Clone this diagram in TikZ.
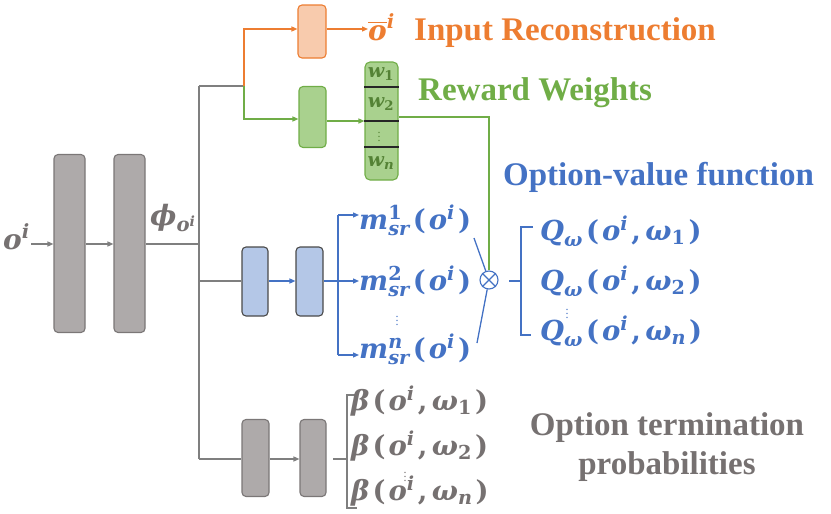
\RequirePackage{fix-cm}
\documentclass[tikz,border=0pt]{standalone}
\usepackage{amsmath}
\usepackage{fontspec}
\setmainfont{Liberation Serif}
\newfontfamily\mserif{DejaVu Serif}
\newcommand\bi[1]{\text{\mserif\bfseries\itshape #1}}
\newcommand\bu[1]{\text{\mserif\bfseries #1}}
\newcommand\gp{\mkern2mu}
\usetikzlibrary{arrows.meta}
\definecolor{cgray}{HTML}{7F7F7F}
\definecolor{cgtext}{HTML}{767171}
\definecolor{cgfill}{HTML}{AEAAAA}
\definecolor{cgdraw}{HTML}{7B7777}
\definecolor{corange}{HTML}{ED7D31}
\definecolor{cofill}{HTML}{F8CBAD}
\definecolor{cgreen}{HTML}{70AD47}
\definecolor{cgrfill}{HTML}{A9D18E}
\definecolor{cgrdark}{HTML}{548235}
\definecolor{cblue}{HTML}{4472C4}
\definecolor{cbfill}{HTML}{B4C7E7}
\definecolor{cbdark}{HTML}{4A4A4A}
\tikzset{
  layer/.style={draw, rounded corners=4pt, line width=1.1pt, inner sep=0pt},
  graybox/.style={layer, draw=cgdraw, fill=cgfill},
  orbox/.style={layer, draw=corange, fill=cofill},
  grbox/.style={layer, draw=cgreen, fill=cgrfill},
  blbox/.style={layer, draw=cbdark, fill=cbfill},
  conn/.style={line width=1.3pt},
  arr/.style={conn, -{Triangle[length=6pt,width=5pt]}},
  title/.style={font=\fontsize{33}{36}\selectfont\bfseries, inner sep=0pt, anchor=base west},
  mtext/.style={font=\fontsize{27.5}{30}\selectfont, inner sep=0pt, anchor=base west},
  dots/.style={inner sep=0pt, font=\fontsize{12}{14}\selectfont},
}
\begin{document}
\begin{tikzpicture}[x=1pt,y=-1pt]
\useasboundingbox (0,0) rectangle (831,514);
% encoder
\node[graybox, minimum width=31pt, minimum height=178pt] (e1) at (69.5,243.5) {};
\node[graybox, minimum width=31pt, minimum height=178pt] (e2) at (129.5,243.5) {};
\node[mtext, text=cgtext, font=\fontsize{28}{30}\selectfont] (oin) at (3,249) {$\bi{o}^{\bi{i}}$};
\coordinate (oinend) at (31,244);
\draw[arr, cgray] (oinend) -- (oinend -| e1.west);
\draw[arr, cgray] (e1.east |- 0,244) -- (e2.west |- 0,244);
\coordinate (j) at (199,244);
\coordinate (jtop) at (199,86);
\coordinate (jblue) at (199,281);
\coordinate (jbot) at (199,459);
\draw[conn, cgray] (e2.east |- j) -- (j);
\draw[conn, cgray] (jtop) -- (jbot);
\node[mtext, text=cgtext, font=\fontsize{28}{30}\selectfont] (phi) at (150,225) {$\bi{ϕ}_{\bi{o}^{\bi{i}}}$};
% top branch
\coordinate (split) at (244,86);
\draw[conn, cgray] (jtop) -- (split);
\node[orbox, minimum width=28pt, minimum height=53pt] (ob) at (312,31.5) {};
\draw[arr, corange] (split) |- (ob.west |- 0,29);
\node[mtext, text=corange, font=\fontsize{28}{30}\selectfont] (obar) at (368,41) {$\overline{\bi{o}}^{\bi{i}}$};
\draw[arr, corange] (ob.east |- 0,29) -- (obar.west |- 0,29);
\node[title, text=corange] (t1) at (414,41) {Input Reconstruction};
% green branch
\node[grbox, minimum width=27pt, minimum height=61pt] (gb) at (312.5,117) {};
\draw[arr, cgreen] (split) |- (gb.west |- 0,119);
\node[grbox, rounded corners=5pt, minimum width=33pt, minimum height=118pt] (vec) at (381.5,121) {};
\draw[line width=1.1pt, black!85] (vec.west |- 0,87) -- (vec.east |- 0,87);
\draw[line width=1.1pt, black!85] (vec.west |- 0,121) -- (vec.east |- 0,121);
\draw[line width=1.1pt, black!85] (vec.west |- 0,147) -- (vec.east |- 0,147);
\node[text=cgrdark, inner sep=0pt, font=\fontsize{19}{21}\selectfont] (w1) at (381,74) {$\bi{w}_{\bu{1}}$};
\node[text=cgrdark, inner sep=0pt, font=\fontsize{19}{21}\selectfont] (w2) at (381,104) {$\bi{w}_{\bu{2}}$};
\node[dots, text=cgrdark] (wd) at (379,134) {$\vdots$};
\node[text=cgrdark, inner sep=0pt, font=\fontsize{19}{21}\selectfont] (wn) at (381,163) {$\bi{w}_{\bi{n}}$};
\draw[arr, cgreen] (gb.east |- vec.west) -- (vec.west);
\node[title, text=cgreen] (t2) at (418,100) {Reward Weights};
% blue branch
\node[blbox, minimum width=26pt, minimum height=69pt] (b1) at (255,281.5) {};
\node[blbox, minimum width=27pt, minimum height=69pt] (b2) at (309.5,281.5) {};
\draw[conn, cgray] (jblue) -- (b1.west |- jblue);
\draw[arr, cblue] (b1.east |- jblue) -- (b2.west |- jblue);
\coordinate (bs) at (338,281);
\coordinate (bstop) at (338,215);
\coordinate (bsbot) at (338,355);
\draw[conn, cblue] (b2.east |- bs) -- (bs);
\draw[conn, cblue] (bstop) -- (bsbot);
\node[mtext, text=cblue] (m1) at (359,229) {$\bi{m}^{\bu{1}}_{\bi{sr}}\gp\bu{(}\gp\bi{o}^{\bi{i}}\gp\bu{)}$};
\node[mtext, text=cblue] (m2) at (359,290) {$\bi{m}^{\bu{2}}_{\bi{sr}}\gp\bu{(}\gp\bi{o}^{\bi{i}}\gp\bu{)}$};
\node[dots, text=cblue] (md) at (397,318) {$\vdots$};
\node[mtext, text=cblue] (mn) at (359,358) {$\bi{m}^{\bi{n}}_{\bi{sr}}\gp\bu{(}\gp\bi{o}^{\bi{i}}\gp\bu{)}$};
\draw[arr, cblue] (bstop) -- (bstop -| m1.west);
\draw[arr, cblue] (bs) -- (bs -| m2.west);
\draw[arr, cblue] (bsbot) -- (bsbot -| mn.west);
\node[circle, draw=cblue, line width=1.1pt, fill=white, minimum size=18pt, inner sep=0pt] (ot) at (489,280) {};
\draw[line width=1.1pt, cblue] (ot.north east) -- (ot.south west) (ot.north west) -- (ot.south east);
\coordinate (m1e) at (474,238);
\coordinate (mne) at (477,343);
\draw[conn, cblue] (m1e) -- (ot);
\draw[conn, cblue] (mne) -- (ot);
\draw[conn, cgreen] (vec.east |- 0,117) -| (ot.north);
\coordinate (qb) at (521,281);
\draw[conn, cblue] (509,281) -- (qb);
\draw[conn, cblue] (533,227) -- (521,227) -- (521,335) -- (531,335);
\node[title, text=cblue] (t3) at (503,185) {Option-value function};
\node[mtext, text=cblue] (q1) at (540,240) {$\bi{Q}_{\bi{ω}}\gp\bu{(}\gp\bi{o}^{\bi{i}}\gp\bu{,}\,\bi{ω}_{\bu{1}}\gp\bu{)}$};
\node[mtext, text=cblue] (q2) at (540,290) {$\bi{Q}_{\bi{ω}}\gp\bu{(}\gp\bi{o}^{\bi{i}}\gp\bu{,}\,\bi{ω}_{\bu{2}}\gp\bu{)}$};
\node[dots, text=cblue] (qd) at (567,311) {$\vdots$};
\node[mtext, text=cblue] (qn) at (540,340) {$\bi{Q}_{\bi{ω}}\gp\bu{(}\gp\bi{o}^{\bi{i}}\gp\bu{,}\,\bi{ω}_{\bi{n}}\gp\bu{)}$};
% bottom gray branch
\node[graybox, minimum width=27pt, minimum height=77pt] (g1) at (255.5,458) {};
\node[graybox, minimum width=26pt, minimum height=77pt] (g2) at (313,458) {};
\draw[conn, cgray] (jbot) -- (g1.west |- jbot);
\draw[arr, cgray] (g1.east |- jbot) -- (g2.west |- jbot);
\draw[conn, cgray] (333,459) -- (347,459);
\draw[conn, cgray] (357,395) -- (347,395) -- (347,508) -- (357,508);
\node[mtext, text=cgtext] (be1) at (351,410) {$\bi{β}\gp\bu{(}\gp\bi{o}^{\bi{i}}\gp\bu{,}\,\bi{ω}_{\bu{1}}\gp\bu{)}$};
\node[mtext, text=cgtext] (be2) at (351,455) {$\bi{β}\gp\bu{(}\gp\bi{o}^{\bi{i}}\gp\bu{,}\,\bi{ω}_{\bu{2}}\gp\bu{)}$};
\node[dots, text=cgtext] (bd) at (405,474) {$\vdots$};
\node[mtext, text=cgtext] (ben) at (351,500) {$\bi{β}\gp\bu{(}\gp\bi{o}^{\bi{i}}\gp\bu{,}\,\bi{ω}_{\bi{n}}\gp\bu{)}$};
\node[text=cgtext, inner sep=0pt, font=\fontsize{33}{39}\selectfont\bfseries, align=center, anchor=north] (t4) at (667,412) {Option termination\\probabilities};
\end{tikzpicture}
\end{document}
